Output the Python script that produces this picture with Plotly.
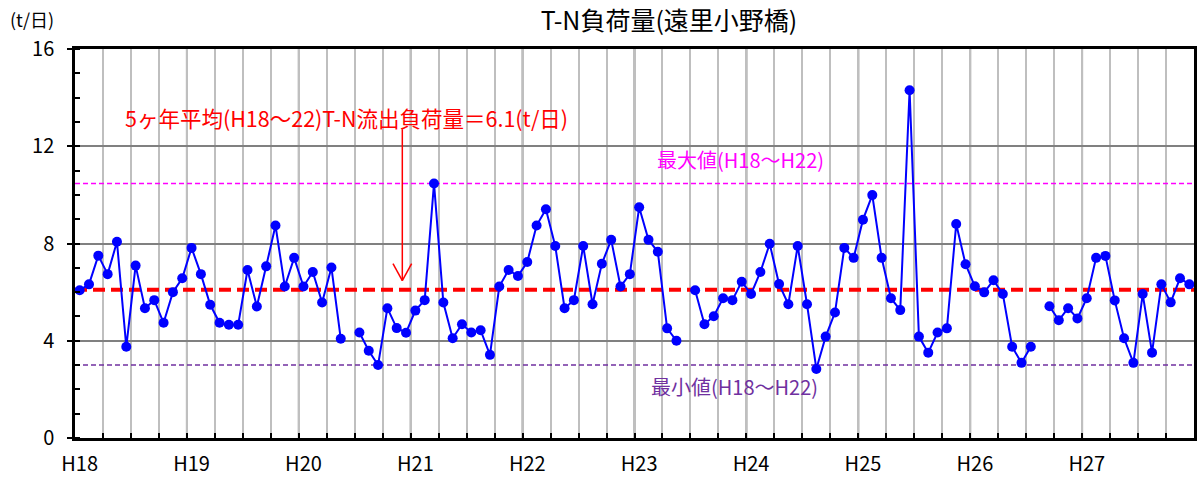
import plotly.graph_objects as go

# ---- data ----
year_labels = ["H18", "H19", "H20", "H21", "H22", "H23", "H24", "H25", "H26", "H27"]
months_per_year = 12
load_values = [
    6.08, 6.32, 7.50, 6.74, 8.07, 3.75, 7.09, 5.34, 5.67, 4.74, 6.00, 6.57,
    7.82, 6.74, 5.48, 4.74, 4.66, 4.66, 6.91, 5.41, 7.06, 8.74, 6.23, 7.41,
    6.23, 6.83, 5.57, 7.01, 4.08, None, 4.34, 3.59, 3.00, 5.34, 4.52, 4.33,
    5.24, 5.67, 10.47, 5.57, 4.10, 4.68, 4.34, 4.43, 3.42, 6.23, 6.91, 6.66,
    7.24, 8.74, 9.41, 7.90, 5.34, 5.67, 7.90, 5.50, 7.17, 8.15, 6.23, 6.74,
    9.49, 8.15, 7.66, 4.51, 4.00, None, 6.08, 4.68, 5.01, 5.75, 5.67, 6.43,
    5.92, 6.83, 7.99, 6.33, 5.50, 7.90, 5.50, 2.84, 4.17, 5.16, 7.82, 7.41,
    8.98, 9.99, 7.41, 5.75, 5.26, 14.30, 4.17, 3.51, 4.34, 4.51, 8.80, 7.15,
    6.24, 5.99, 6.49, 5.92, 3.75, 3.09, 3.75, None, 5.42, 4.84, 5.34, 4.92,
    5.75, 7.41, 7.49, 5.66, 4.10, 3.09, 5.92, 3.51, 6.32, 5.58, 6.57, 6.32,
]
avg_value = 6.1
max_value = 10.47
min_value = 3.0

avg_text = "5ヶ年平均(H18～22)T-N流出負荷量＝6.1(t/日)"
max_text = "最大値(H18～H22)"
min_text = "最小値(H18～H22)"
title_text = "T-N負荷量(遠里小野橋)"
unit_text = "(t/日)"

FONT = "Noto Sans CJK JP"
n = len(load_values)
x = list(range(n))
x_lo, x_hi = -0.5, n - 0.5

fig = go.Figure()

# reference lines
fig.add_trace(go.Scatter(x=[x_lo, x_hi], y=[max_value, max_value], mode="lines",
                         line=dict(color="#FF00FF", width=1.5, dash="5px,3px"),
                         hoverinfo="skip", showlegend=False))
fig.add_trace(go.Scatter(x=[x_lo, x_hi], y=[min_value, min_value], mode="lines",
                         line=dict(color="#7030A0", width=1.5, dash="5px,3px"),
                         hoverinfo="skip", showlegend=False))
fig.add_trace(go.Scatter(x=[x_lo, x_hi], y=[avg_value, avg_value], mode="lines",
                         line=dict(color="#FF0000", width=4, dash="12px,6px"),
                         hoverinfo="skip", showlegend=False))

# main series
fig.add_trace(go.Scatter(x=x, y=load_values, mode="lines+markers",
                         line=dict(color="#0000FF", width=2),
                         marker=dict(color="#0000FF", size=10),
                         connectgaps=False, showlegend=False))

# year separator lines (darker)
shapes = []
for k in range(1, len(year_labels)):
    xv = x_lo + k * months_per_year
    shapes.append(dict(type="line", xref="x", yref="paper", x0=xv, x1=xv, y0=0, y1=1,
                       line=dict(color="#808080", width=2), layer="between"))

# arrow pointing to the average line
arrow_x = 34.6
arrow_top = 12.7
arrow_tip = 6.47
shapes.append(dict(type="line", xref="x", yref="y", x0=arrow_x, x1=arrow_x,
                   y0=arrow_top, y1=arrow_tip, line=dict(color="#FF0000", width=1.5)))
shapes.append(dict(type="line", xref="x", yref="y", x0=arrow_x - 1.0, x1=arrow_x,
                   y0=arrow_tip + 0.7, y1=arrow_tip, line=dict(color="#FF0000", width=1.5)))
shapes.append(dict(type="line", xref="x", yref="y", x0=arrow_x + 1.0, x1=arrow_x,
                   y0=arrow_tip + 0.7, y1=arrow_tip, line=dict(color="#FF0000", width=1.5)))

annotations = [
    dict(text=avg_text, x=4.6, y=13.17, xref="x", yref="y", xanchor="left", yanchor="middle",
         showarrow=False, font=dict(family=FONT, size=21.5, color="#FF0000")),
    dict(text=max_text, x=61.7, y=11.46, xref="x", yref="y", xanchor="left", yanchor="middle",
         showarrow=False, font=dict(family=FONT, size=20, color="#FF00FF")),
    dict(text=min_text, x=61.1, y=2.13, xref="x", yref="y", xanchor="left", yanchor="middle",
         showarrow=False, font=dict(family=FONT, size=20, color="#7030A0")),
    dict(text=unit_text, x=(8 - 75) / 1122, y=(440 - 19) / 391, xref="paper", yref="paper",
         xanchor="left", yanchor="middle", showarrow=False,
         font=dict(family=FONT, size=18, color="black")),
]

fig.update_layout(
    width=1198, height=478,
    margin=dict(l=75, r=1, t=49, b=38),
    paper_bgcolor="white", plot_bgcolor="white",
    title=dict(text=title_text, x=669 / 1198, xanchor="center", y=1 - 21 / 478, yanchor="middle",
               xref="container", yref="container",
               font=dict(family=FONT, size=25, color="black")),
    shapes=shapes,
    annotations=annotations,
    font=dict(family=FONT, color="black"),
)

fig.update_xaxes(
    range=[x_lo, x_hi],
    tickvals=[k * months_per_year for k in range(len(year_labels))],
    ticktext=year_labels,
    ticks="", showgrid=False, zeroline=False,
    ticklabelstandoff=6,
    tickfont=dict(family=FONT, size=20, color="black"),
    showline=True, linecolor="black", linewidth=2.5, mirror=True,
    minor=dict(tickvals=[x_lo + 3 * k for k in range(1, n // 3)], ticks="inside", ticklen=5,
               tickcolor="black", tickwidth=1.5, showgrid=True, gridcolor="#BFBFBF", gridwidth=2),
)
fig.update_yaxes(
    range=[0, 16], tickvals=[0, 4, 8, 12, 16],
    ticks="outside", ticklen=5, tickcolor="black", tickwidth=1.5,
    ticklabelstandoff=9,
    showgrid=True, gridcolor="#808080", gridwidth=2, zeroline=False,
    tickfont=dict(family=FONT, size=20, color="black"),
    showline=True, linecolor="black", linewidth=2.5, mirror=True,
    minor=dict(dtick=1, ticks="inside", ticklen=5, tickcolor="black", tickwidth=1.5, showgrid=False),
)

fig.write_html("out.html", config={"displayModeBar": False},
               post_script="document.body.style.margin='0';")
